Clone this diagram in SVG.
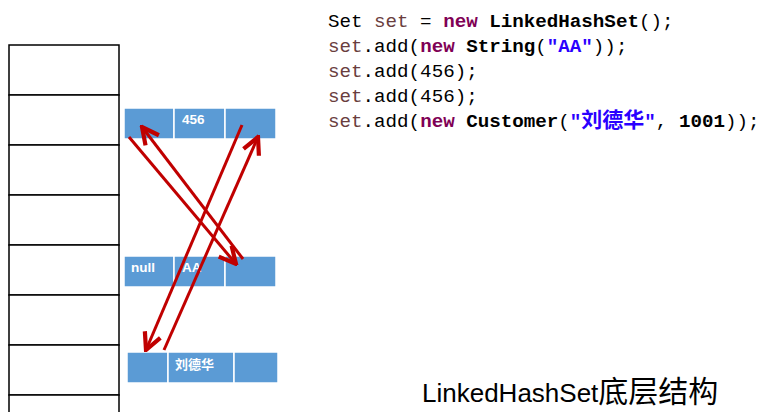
<svg xmlns="http://www.w3.org/2000/svg" width="764" height="412" viewBox="0 0 764 412">
<defs>
<style>
.tbl{fill:#fff;stroke:#000;stroke-width:1.5}
.cell{fill:#5B9BD5;stroke:#fff;stroke-width:1.5}
.lbl{font-family:"Liberation Sans","Noto Sans CJK SC",sans-serif;font-weight:bold;font-size:13.5px;fill:#fff}
.code{font-family:"Liberation Mono","Noto Sans CJK SC",monospace;font-size:19.2px;fill:#000}
.v{fill:#6A3E3E}
.k{fill:#7F0055;font-weight:bold}
.b{font-weight:bold}
.s{fill:#2A00FF;font-weight:bold}
.conn{stroke:#C00000;stroke-width:3;fill:none;marker-end:url(#ah)}
</style>
<marker id="ah" markerWidth="7" markerHeight="7" viewBox="0 0 10 10" refX="9" refY="5" orient="auto" markerUnits="strokeWidth">
<path d="M1,1 L9,5 L1,9" fill="none" stroke="#C00000" stroke-width="2"/>
</marker>
</defs>
<g id="table">
<rect class="tbl" x="9" y="45" width="110" height="50"/>
<rect class="tbl" x="9" y="95" width="110" height="50"/>
<rect class="tbl" x="9" y="145" width="110" height="50"/>
<rect class="tbl" x="9" y="195" width="110" height="50"/>
<rect class="tbl" x="9" y="245" width="110" height="50"/>
<rect class="tbl" x="9" y="295" width="110" height="50"/>
<rect class="tbl" x="9" y="345" width="110" height="50"/>
<rect class="tbl" x="9" y="395" width="110" height="50"/>
</g>
<g id="node-456">
<rect class="cell" x="124" y="108" width="50" height="31"/>
<rect class="cell" x="174" y="108" width="51" height="31"/>
<rect class="cell" x="225" y="108" width="51" height="31"/>
<text class="lbl" x="182" y="124">456</text>
</g>
<g id="node-AA">
<rect class="cell" x="124" y="256" width="50" height="31"/>
<rect class="cell" x="174" y="256" width="51" height="31"/>
<rect class="cell" x="225" y="256" width="51" height="31"/>
<text class="lbl" x="131" y="272">null</text>
<text class="lbl" x="182" y="272">AA</text>
</g>
<g id="node-liudehua">
<rect class="cell" x="127" y="352" width="41" height="31"/>
<rect class="cell" x="168" y="352" width="66" height="31"/>
<rect class="cell" x="234" y="352" width="44" height="31"/>
<text class="lbl" x="175" y="369" style="font-size:13px">刘德华</text>
</g>
<g id="connectors">
<line class="conn" x1="129" y1="137" x2="236" y2="264"/>
<line class="conn" x1="243" y1="259" x2="142" y2="127"/>
<line class="conn" x1="242" y1="125" x2="146" y2="350"/>
<line class="conn" x1="164" y1="350" x2="258" y2="137"/>
</g>
<g id="code" class="code">
<text x="328" y="27">Set <tspan class="v">set</tspan> = <tspan class="k">new</tspan> <tspan class="b">LinkedHashSet</tspan>();</text>
<text x="328" y="52"><tspan class="v">set</tspan>.add(<tspan class="k">new</tspan> <tspan class="b">String</tspan>(<tspan class="s">"AA"</tspan>));</text>
<text x="328" y="77"><tspan class="v">set</tspan>.add(456);</text>
<text x="328" y="102"><tspan class="v">set</tspan>.add(456);</text>
<text x="328" y="127"><tspan class="v">set</tspan>.add(<tspan class="k">new</tspan> <tspan class="b">Customer</tspan>(<tspan class="s">"<tspan style="font-size:21px">刘德华</tspan>"</tspan>, <tspan class="b">1001</tspan>));</text>
</g>
<g id="title">
<text x="422" y="402" style="font-family:'Liberation Sans','Noto Sans CJK SC',sans-serif;font-size:26px;fill:#000">LinkedHashSet<tspan style="font-size:30px">底层结构</tspan></text>
</g>
</svg>
